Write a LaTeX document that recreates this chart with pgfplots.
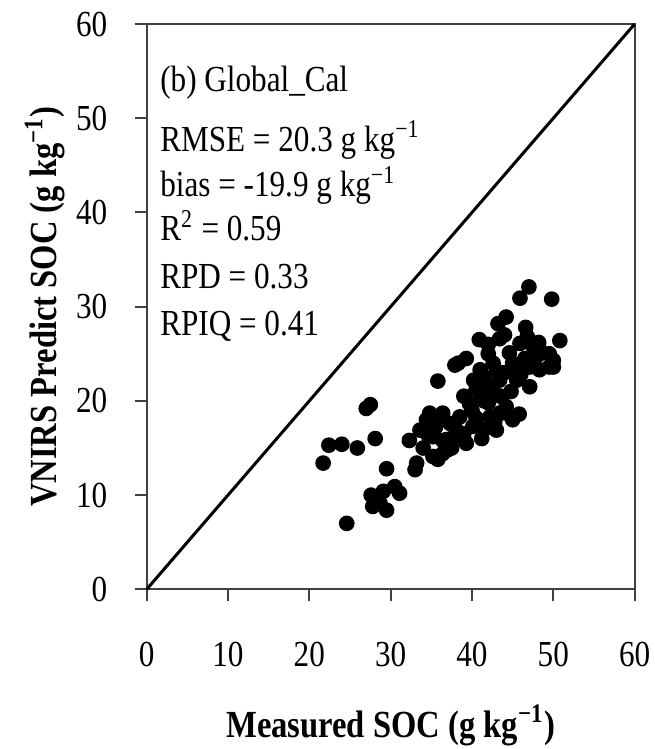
\documentclass[border=0pt]{standalone}
\usepackage{fontspec}
\setmainfont{Liberation Serif}[FakeStretch=0.85]
\usepackage{pgfplots}
\pgfplotsset{compat=1.18}
\begin{document}
\fontsize{11pt}{13pt}\selectfont
\begin{tikzpicture}
\begin{axis}[
  at={(0,0)}, anchor=south west,
  scale only axis, width=146.4pt, height=169.6pt,
  xmin=0, xmax=60, ymin=0, ymax=60,
  xtick={0,10,...,60}, ytick={0,10,...,60},
  tick align=outside, xtick pos=bottom, ytick pos=left,
  major tick length=3.6pt,
  axis line style={line width=0.6pt, color=black!75},
  every tick/.style={line width=0.6pt, color=black!75},
  /pgf/number format/assume math mode=true,
  ticklabel style={font=\fontsize{11pt}{13pt}\selectfont},
  xticklabel style={anchor=base, inner sep=0pt, yshift=-19.5pt},
  yticklabel style={anchor=east, inner sep=0pt, xshift=-8pt},
  xlabel={\bfseries Measured SOC (g kg\textsuperscript{−1})},
  ylabel={\bfseries VNIRS Predict SOC (g kg\textsuperscript{−1})},
  xlabel style={at={(axis description cs:0.5,-0.262)}, anchor=base, inner sep=0pt, font=\fontsize{11.5pt}{13pt}\selectfont},
  ylabel style={at={(axis description cs:-0.2083,0.5)}, anchor=center, inner sep=0pt, font=\fontsize{11.5pt}{13pt}\selectfont},
  clip=false,
]
\addplot[black, line width=0.9pt, mark=none] coordinates {(0,0) (60,60)};
\addplot[only marks, mark=*, mark size=2.15pt, black] coordinates {
(21.7,13.4) (22.4,15.3) (24.0,15.4) (25.9,15.0) (28.1,16.0) (29.5,12.8)
(27.0,19.2) (27.5,19.6) (24.6,7.0) (27.6,10.0) (29.1,10.4) (30.5,10.9)
(31.1,10.2) (27.8,8.8) (29.5,8.4) (28.7,9.1) (32.3,15.8) (33.2,13.4)
(33.0,12.7) (35.2,14.1) (36.4,14.4) (34.4,18.0) (36.0,18.3) (37.3,17.6)
(35.2,16.2) (36.9,15.9) (38.1,16.2) (33.6,16.9) (35.8,22.1) (37.9,23.8)
(39.3,24.5) (47.0,32.1) (45.9,30.9) (49.8,30.8) (44.2,28.9) (43.2,28.2)
(46.6,27.8) (40.9,26.5) (43.4,26.6) (50.8,26.4) (41.0,23.3) (42.6,24.0)
(44.6,25.1) (45.9,26.1) (47.5,25.8) (48.7,25.1) (50.0,24.3) (45.5,23.3)
(47.1,23.6) (48.3,23.3) (49.5,23.6) (41.8,21.9) (43.4,22.2) (45.5,22.2)
(47.1,21.5) (41.0,20.8) (42.6,21.2) (38.3,24.0) (41.4,22.6) (40.5,21.2)
(39.7,19.7) (34.8,18.7) (36.4,18.7) (44.2,19.4) (43.4,18.7) (44.2,18.7)
(45.0,18.0) (38.5,18.3) (40.1,17.3) (42.2,18.3) (43.0,16.9) (36.4,15.8)
(39.3,15.5) (39.0,16.5) (41.5,17.0) (40.0,19.0) (34.0,15.0) (37.5,15.0)
(44.0,23.0) (46.5,24.5) (42.0,25.0) (49.5,25.0) (50.0,23.6) (44.0,27.0)
(46.0,22.8) (43.5,20.5) (42.0,19.8) (40.5,18.2) (38.0,17.0) (35.5,17.2)
(34.5,16.5) (37.0,14.8) (35.8,13.8) (41.2,16.0) (42.8,17.8) (45.8,18.6)
(48.0,24.8) (45.0,24.0) (43.0,23.2) (40.2,22.2) (39.0,20.5) (41.5,20.0)
(44.8,21.0) (46.8,26.8) (48.2,26.2) (42.0,26.0)
};
\node[anchor=base west, inner sep=0pt] at (axis cs:1.6,52.8) {(b) Global\_Cal};
\node[anchor=base west, inner sep=0pt] at (axis cs:1.6,46.5) {RMSE = 20.3 g kg\textsuperscript{−1}};
\node[anchor=base west, inner sep=0pt] at (axis cs:1.6,41.7) {bias = -19.9 g kg\textsuperscript{−1}};
\node[anchor=base west, inner sep=0pt] at (axis cs:1.6,37.0) {R\textsuperscript{2} = 0.59};
\node[anchor=base west, inner sep=0pt] at (axis cs:1.6,31.9) {RPD = 0.33};
\node[anchor=base west, inner sep=0pt] at (axis cs:1.6,26.9) {RPIQ = 0.41};
\end{axis}
\path (-44.0pt,-47.9pt) rectangle (152.2pt,176.8pt);
\end{tikzpicture}
\end{document}
